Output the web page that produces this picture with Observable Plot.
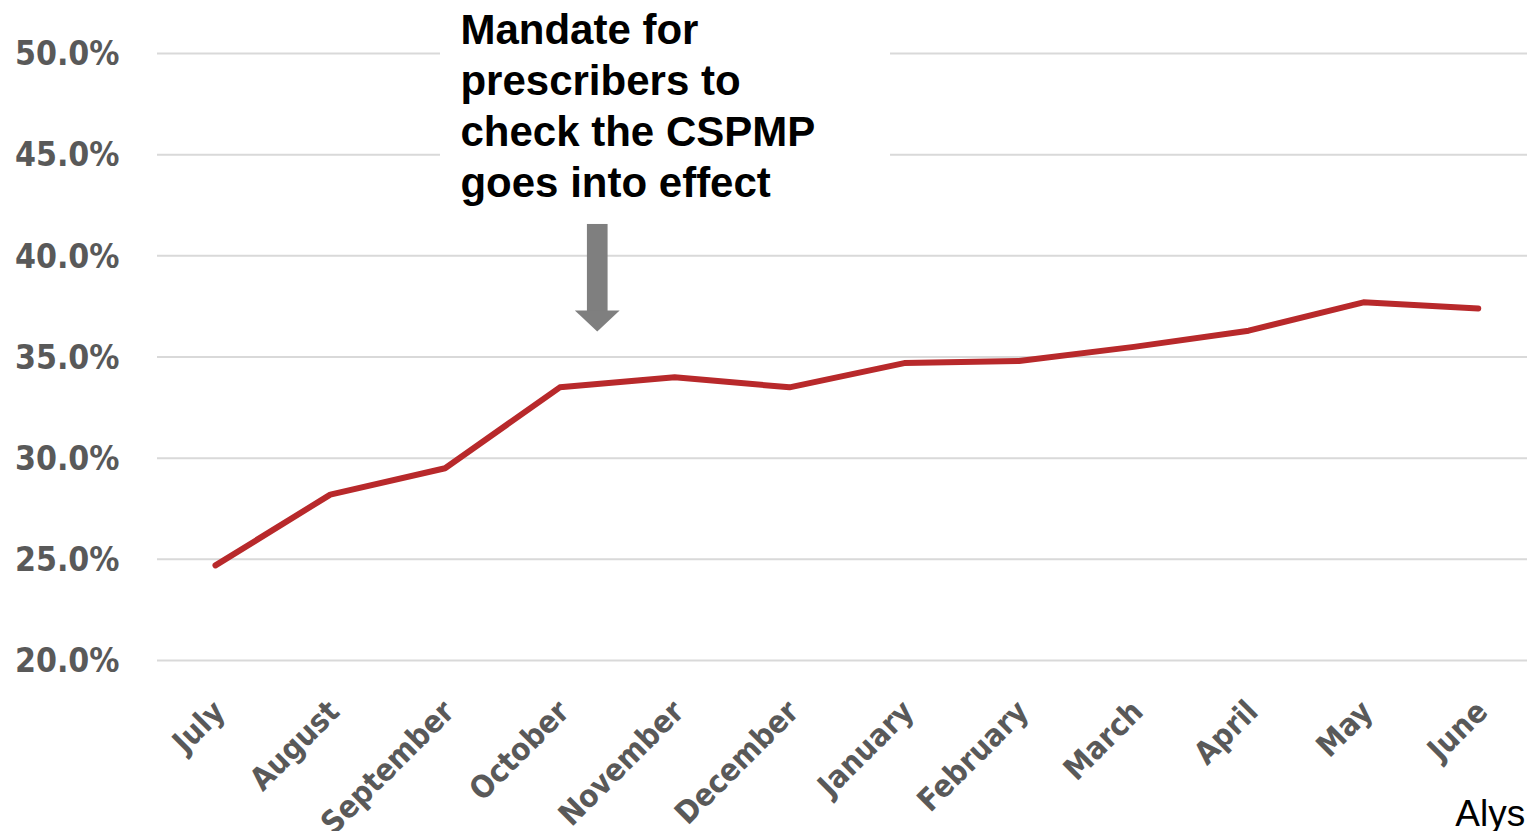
<!DOCTYPE html>
<html>
<head>
<meta charset="utf-8">
<script src="https://cdn.jsdelivr.net/npm/d3@7"></script>
<script src="https://cdn.jsdelivr.net/npm/@observablehq/plot@0.6"></script>
<style>
  html, body { margin: 0; padding: 0; background: #fff; overflow: hidden; }
  #chart svg { overflow: hidden; }
</style>
</head>
<body>
<div id="chart"></div>
<script>
// ---- data ----
const months = ["July", "August", "September", "October", "November", "December",
                "January", "February", "March", "April", "May", "June"];
const values = [24.7, 28.2, 29.5, 33.5, 34.0, 33.5, 34.7, 34.8, 35.5, 36.3, 37.7, 37.4];
const yTicks = [20, 25, 30, 35, 40, 45, 50];
const annotationLines = ["Mandate for", "prescribers to", "check the CSPMP", "goes into effect"];
const caption = "Alys";

// annotation anchors (in month-index / percent units)
const noteX = 2.134;          // left edge of the note text
const noteBox = {x1: 1.96, x2: 5.88, y1: 42.4, y2: 53};
const arrowX = 3.33;          // arrow centre
const arrowShaft = {x1: 3.24, x2: 3.42, y1: 37.2, y2: 41.55};
const arrowHead = [{x: 3.135, top: 37.27, tip: 37.27}, {x: arrowX, top: 37.27, tip: 36.23}, {x: 3.525, top: 37.27, tip: 37.27}];

const data = months.map((m, i) => ({i, month: m, value: values[i]}));

const labelFont = "'Liberation Sans Narrow', 'Arial Narrow', 'DejaVu Sans Condensed', sans-serif";

const chart = Plot.plot({
  width: 1527,
  height: 831,
  marginLeft: 157,
  marginRight: 0,
  marginTop: 53,
  marginBottom: 171,
  x: {type: "linear", domain: [-0.505, 11.429], axis: null},
  y: {domain: [20, 50], axis: null},
  style: {background: "#fff"},
  marks: [
    Plot.ruleY(yTicks, {stroke: "#d9d9d9", strokeWidth: 2}),
    Plot.rect([noteBox], {x1: "x1", x2: "x2", y1: "y1", y2: "y2", fill: "#fff"}),
    // y tick labels
    Plot.text(yTicks, {
      y: d => d, frameAnchor: "left", text: d => d.toFixed(1) + "%",
      textAnchor: "end", dx: -38, dy: 1,
      fontSize: 33.5, fontWeight: "bold", fill: "#595959", fontFamily: labelFont
    }),
    // x tick labels
    Plot.text(data, {
      x: "i", y: () => 20, text: "month", rotate: -45, textAnchor: "end",
      lineAnchor: "middle",
      dx: 4, dy: 46,
      fontSize: 31, fontWeight: "bold", fill: "#595959", fontFamily: labelFont
    }),
    // data line
    Plot.line(data, {x: "i", y: "value", stroke: "#b8292b", strokeWidth: 6, strokeLinecap: "round", strokeLinejoin: "round"}),
    // annotation arrow
    Plot.rect([arrowShaft], {x1: "x1", x2: "x2", y1: "y1", y2: "y2", fill: "#7f7f7f"}),
    Plot.areaY(arrowHead, {x: "x", y1: "top", y2: "tip", fill: "#7f7f7f", curve: "linear"}),
    // annotation text
    Plot.text([annotationLines.join("\n")], {
      x: () => noteX, y: () => 50, text: d => d, textAnchor: "start", lineAnchor: "top",
      lineHeight: 1.215, dy: -46,
      fontSize: 42, fontWeight: "bold", fill: "#000", letterSpacing: "0.6px",
      fontFamily: "'Liberation Sans', Arial, sans-serif"
    }),
    // cut-off caption at bottom right
    Plot.text([caption], {
      x: () => 10.8, y: () => 20, text: d => d, textAnchor: "start", lineAnchor: "bottom",
      dy: 165, fontSize: 37, fill: "#000", fontFamily: "'Liberation Sans', Arial, sans-serif"
    })
  ]
});
document.getElementById("chart").appendChild(chart);
</script>
</body>
</html>
